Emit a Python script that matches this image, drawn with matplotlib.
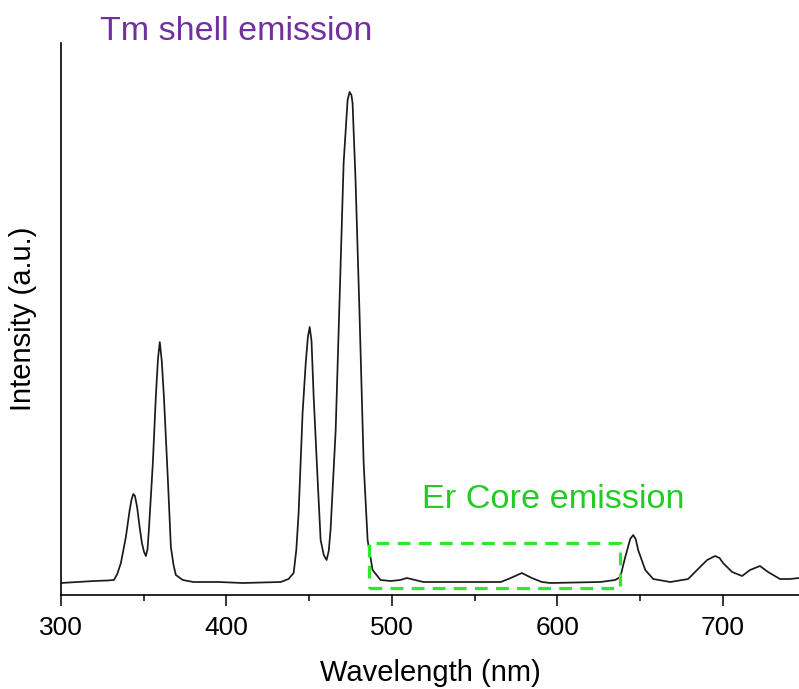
import matplotlib
matplotlib.use("Agg")
import matplotlib.pyplot as plt
from matplotlib.patches import Rectangle

plt.rcParams['font.family'] = ['Liberation Sans', 'DejaVu Sans']

# Emission spectrum (wavelength nm, intensity a.u.)
wavelength = [300.0, 310, 320, 328, 332.0, 334.0, 336.2, 339.2, 341.5, 342.7,
              343.7, 344.7, 346.0, 347.5, 348.9, 350.2, 351.3, 352.3, 353.1, 354.3,
              355.5, 357.3, 358.6, 359.7, 360.9, 362.2, 364.6, 366.4, 368.0, 369.4,
              373.6, 380, 395, 410, 432.8, 437.5, 440.6, 442.2, 443.6, 446.0,
              447.9, 449.2, 450.3, 451.4, 452.7, 455.1, 456.9, 458.8, 460.5, 461.8,
              462.9, 466.0, 468.4, 470.8, 473.2, 474.4, 475.5, 476.2, 478.0, 480.4,
              482.9, 485.3, 488.3, 493.1, 499.2, 505, 509, 514, 519, 541.6,
              565.8, 571.8, 578.5, 584.5, 590.6, 595.7, 625.9, 634.9, 638.0, 641.0,
              644.0, 645.8, 647.3, 648.8, 653.1, 657.9, 668.2, 679.0, 686.2, 690.5,
              695.3, 698.0, 700.1, 705.6, 711.6, 716.4, 722.4, 727.3, 734.5, 740.6,
              746.0]
intensity = [12, 13, 14, 14.5, 15, 21, 32, 58, 85, 96,
             101, 99, 88, 68, 52, 43, 39, 46, 65, 98,
             132, 198, 236, 253, 234, 198, 115, 48, 30, 20,
             15, 13, 13, 12, 13, 16, 22, 45, 82, 182,
             232, 258, 268, 254, 198, 115, 55, 40, 35, 44,
             65, 165, 298, 432, 495, 503, 500, 492, 415, 282,
             132, 55, 25, 15, 14, 15, 17, 15, 13, 13,
             13, 17, 22, 17, 13, 12, 13, 15, 18, 38,
             56, 60, 56, 45, 25, 16, 13, 16, 28, 35,
             39, 37, 32, 23, 19, 25, 29, 23, 16, 16,
             17]

# Highlighted Er core region (box limits)
box_wl = [485.9, 638.0]
box_int = [7, 52]

x_ticks = [300, 400, 500, 600, 700]
x_minor = [350, 450, 550, 650]

fig = plt.figure(figsize=(7.99, 6.89), dpi=100)
ax = fig.add_axes([61/799, 1 - 595/689, 738/799, 552/689])

ax.plot(wavelength, intensity, color='#1a1a1a', lw=1.25)

rect = Rectangle((box_wl[0], box_int[0]), box_wl[1] - box_wl[0], box_int[1] - box_int[0],
                 fill=False, edgecolor='#2ee82e', lw=2.3, linestyle=(0, (4, 2.6)), zorder=3)
ax.add_patch(rect)

ax.set_xlim(300, 746)
ax.set_ylim(0, 552)
ax.set_xticks(x_ticks)
ax.set_xticks(x_minor, minor=True)
ax.set_yticks([])
for s in ['top', 'right']:
    ax.spines[s].set_visible(False)
for s in ['left', 'bottom']:
    ax.spines[s].set_linewidth(1.2)
ax.tick_params(axis='x', which='major', direction='out', length=8, width=1.1,
               labelsize=19, pad=7)
ax.tick_params(axis='x', which='minor', direction='out', length=4.5, width=1.1)

ax.set_xlabel('Wavelength (nm)', fontsize=21, labelpad=14)
ax.set_ylabel('Intensity (a.u.)', fontsize=21, labelpad=17)

fig.text(100/799, 1 - 40/689, 'Tm shell emission', color='#7030a0', fontsize=24.5,
         ha='left', va='baseline')
fig.text(422/799, 1 - 508/689, 'Er Core emission', color='#22cc22', fontsize=24.7,
         ha='left', va='baseline')

fig.savefig('out.png', dpi=100)
